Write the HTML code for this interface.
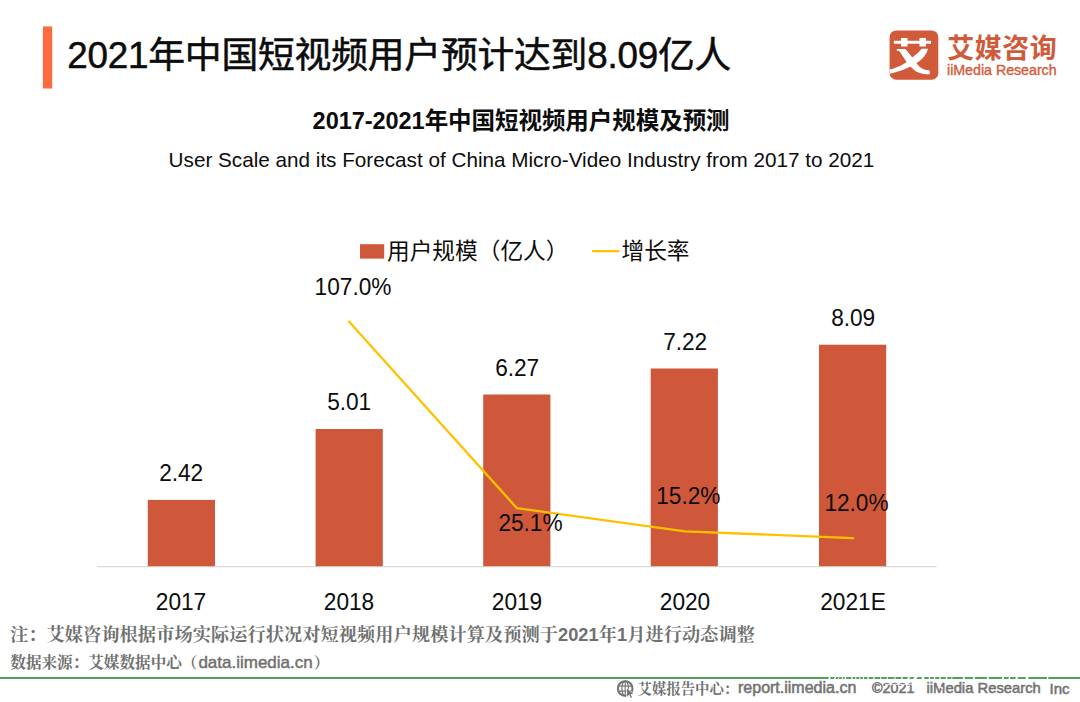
<!DOCTYPE html>
<html lang="zh-CN">
<head>
<meta charset="utf-8">
<title>2021年中国短视频用户预计达到8.09亿人</title>
<style>
html,body{margin:0;padding:0;background:#fff;}
body{width:1080px;height:702px;overflow:hidden;font-family:"Liberation Sans",sans-serif;color:#0c0c0c;}
#page{position:relative;width:1080px;height:702px;background:#fff;overflow:hidden;}
.t{position:absolute;white-space:nowrap;line-height:1;margin:0;padding:0;font-weight:normal;}
.g{position:absolute;left:0;top:0;width:1080px;height:702px;overflow:visible;pointer-events:none;}
.sr{position:absolute;white-space:nowrap;color:transparent;line-height:1;margin:0;padding:0;font-weight:normal;overflow:hidden;}
.lbl{color:#0c0c0c;transform:scaleY(1.05);transform-origin:50% 84.65%;}
.grey{color:#737373;-webkit-text-stroke:0.55px #737373;}
.rule{position:absolute;left:0;top:676.8px;width:1080px;height:2.3px;background:#52A05E;}
svg text{font-family:"Liberation Sans","Noto Sans CJK SC",sans-serif;}
svg text.serif{font-family:"Liberation Sans","Noto Serif CJK SC",serif;}
</style>
</head>
<body>
<div id="page">
<svg class="g" viewBox="0 0 1080 702" aria-hidden="true"><rect x="42.9" y="26.4" width="9.3" height="62.1" fill="#FD6C40"/></svg>
<svg class="g" viewBox="0 0 1080 702"><text x="67.3" y="67.6" font-size="36.8" fill="#0c0c0c" stroke="#0c0c0c" stroke-width="0.5" textLength="664" lengthAdjust="spacing">2021年中国短视频用户预计达到8.09亿人</text></svg>
<svg class="g" viewBox="0 0 1080 702">
<rect x="889.6" y="30.4" width="48.7" height="49.4" rx="6.6" ry="6.6" fill="#D15A3B"/>
<g transform="translate(884 26) scale(0.08547)" fill="#fff">
<rect x="115" y="172" width="435" height="36" rx="6"/>
<rect x="200" y="140" width="75" height="100"/>
<rect x="415" y="140" width="75" height="100"/>
<path d="M440 265 L515 265 C500 330 440 400 385 430 C330 475 200 530 65 560 L65 510 C150 490 230 450 270 415 C330 365 400 320 440 265 Z"/>
<path d="M150 268 L250 268 C280 300 300 330 325 360 C360 410 400 470 440 495 C470 512 500 518 535 520 L535 565 C470 565 420 555 380 535 C340 510 300 460 265 420 C230 370 200 320 185 300 C175 292 160 290 150 290 Z"/>
</g>
<text x="947.3" y="57.9" font-size="27" font-weight="bold" fill="#D15A3B" textLength="109.5" lengthAdjust="spacing">艾媒咨询</text>
</svg>
<div class="t logo-en" style="left:947.0px;top:62.6px;font-size:14.2px;color:#D15A3B;-webkit-text-stroke:0.35px #D15A3B;">iiMedia Research</div>
<svg class="g" viewBox="0 0 1080 702"><text x="312.6" y="129" font-size="23.5" font-weight="bold" fill="#0c0c0c" textLength="417" lengthAdjust="spacing">2017-2021年中国短视频用户规模及预测</text></svg>
<div class="t sub" style="left:168.6px;top:149.8px;font-size:20.7px;">User Scale and its Forecast of China Micro-Video Industry from 2017 to 2021</div>
<svg class="g" viewBox="0 0 1080 702">
<rect x="360" y="244.2" width="24.2" height="14.4" fill="#D0583A"/>
<line x1="593" y1="251.2" x2="618.3" y2="251.2" stroke="#FFC000" stroke-width="2.2" stroke-linecap="round"/>
<text x="387" y="258.6" font-size="22.7" fill="#0c0c0c">用户规模（亿人）</text>
<text x="621.5" y="258.6" font-size="22.7" fill="#0c0c0c">增长率</text>
<line x1="97.3" y1="566.6" x2="936.5" y2="566.6" stroke="#D9D9D9" stroke-width="1.2"/>
<rect x="147.8" y="499.9" width="67.2" height="66.3" fill="#D0583A"/>
<rect x="315.6" y="429.0" width="67.2" height="137.2" fill="#D0583A"/>
<rect x="483.2" y="394.5" width="67.2" height="171.7" fill="#D0583A"/>
<rect x="650.7" y="368.5" width="67.2" height="197.7" fill="#D0583A"/>
<rect x="819.0" y="344.7" width="67.2" height="221.5" fill="#D0583A"/>
<polyline points="349,321.5 517,508.2 685,531.3 853,538.1" fill="none" stroke="#FFC000" stroke-width="2.3" stroke-linecap="round" stroke-linejoin="round"/>
</svg>
<div class="t lbl" style="left:81.2px;width:200px;text-align:center;top:461.6px;font-size:22.67px;">2.42</div>
<div class="t lbl" style="left:249.2px;width:200px;text-align:center;top:391.3px;font-size:22.67px;">5.01</div>
<div class="t lbl" style="left:417.2px;width:200px;text-align:center;top:357.0px;font-size:22.67px;">6.27</div>
<div class="t lbl" style="left:585.2px;width:200px;text-align:center;top:331.3px;font-size:22.67px;">7.22</div>
<div class="t lbl" style="left:753.2px;width:200px;text-align:center;top:306.6px;font-size:22.67px;">8.09</div>
<div class="t lbl" style="left:253.0px;width:200px;text-align:center;top:275.7px;font-size:22.67px;">107.0%</div>
<div class="t lbl" style="left:430.5px;width:200px;text-align:center;top:512.3px;font-size:22.67px;">25.1%</div>
<div class="t lbl" style="left:588.4px;width:200px;text-align:center;top:484.7px;font-size:22.67px;">15.2%</div>
<div class="t lbl" style="left:756.5px;width:200px;text-align:center;top:492.4px;font-size:22.67px;">12.0%</div>
<div class="t lbl" style="left:81.0px;width:200px;text-align:center;top:591.2px;font-size:22.67px;">2017</div>
<div class="t lbl" style="left:249.0px;width:200px;text-align:center;top:591.2px;font-size:22.67px;">2018</div>
<div class="t lbl" style="left:417.0px;width:200px;text-align:center;top:591.2px;font-size:22.67px;">2019</div>
<div class="t lbl" style="left:585.0px;width:200px;text-align:center;top:591.2px;font-size:22.67px;">2020</div>
<div class="t lbl" style="left:753.0px;width:200px;text-align:center;top:591.2px;font-size:22.67px;">2021E</div>
<svg class="g" viewBox="0 0 1080 702">
<text class="serif" x="10" y="641" font-size="18.2" font-weight="bold" fill="#707070" textLength="745" lengthAdjust="spacing">注：艾媒咨询根据市场实际运行状况对短视频用户规模计算及预测于2021年1月进行动态调整</text>
<text class="serif" x="10.3" y="668.3" font-size="15.6" font-weight="bold" fill="#707070">数据来源：艾媒数据中心（</text>
<text class="serif" x="313.8" y="668.3" font-size="15.6" font-weight="bold" fill="#707070">）</text>
<text class="serif" x="637.5" y="693.5" font-size="14.4" font-weight="bold" fill="#737373">艾媒报告中心：</text>
</svg>
<div class="t src" style="left:198.4px;top:653.9px;font-size:17.0px;color:#707070;-webkit-text-stroke:0.45px #707070;">data.iimedia.cn</div>
<div class="rule"></div>
<svg class="g" viewBox="0 0 1080 702" aria-hidden="true">
<g fill="none" stroke="#737373">
<circle cx="625.2" cy="688.5" r="7.3" stroke-width="2.1"/>
<ellipse cx="625.2" cy="688.5" rx="3.3" ry="7.3" stroke-width="1.2"/>
<line x1="625.2" y1="681" x2="625.2" y2="696" stroke-width="1.1"/>
<line x1="618.6" y1="686" x2="631.8" y2="686" stroke-width="1.2"/>
<line x1="618.6" y1="691.2" x2="631.8" y2="691.2" stroke-width="1.2"/>
</g>
<path d="M627.1 688.2 L627.1 696.4 L629.2 694.6 L630.7 698 L632 697.4 L630.6 694.2 L633.2 693.9 Z" fill="#737373" stroke="#fff" stroke-width="1.3" paint-order="stroke"/>
</svg>
<div class="t grey" style="left:738.0px;top:679.9px;font-size:16.0px;">report.iimedia.cn</div><div class="t grey" style="left:872.0px;top:681.3px;font-size:14.3px;">©2021</div><div class="t grey" style="left:926.5px;top:680.9px;font-size:14.8px;">iiMedia Research</div><div class="t grey" style="left:1049.6px;top:680.7px;font-size:15.0px;">Inc</div>
<svg class="g" viewBox="0 0 1080 702" aria-hidden="true"><g stroke="#fff" fill="none" stroke-linecap="butt"><line x1="829.4" y1="674.5" x2="829.4" y2="681.3" stroke-width="1.7"/><line x1="837.4" y1="674.5" x2="832.8" y2="681.5" stroke-width="1.3"/><line x1="840.6" y1="674.5" x2="836.9" y2="681.5" stroke-width="0.8"/><line x1="842.2" y1="674.5" x2="842.2" y2="681.3" stroke-width="1.0"/><line x1="845.4" y1="674.5" x2="845.4" y2="681.3" stroke-width="1.3"/><line x1="852.0" y1="674.5" x2="852.0" y2="681.3" stroke-width="1.3"/><line x1="855.8" y1="674.5" x2="855.8" y2="681.3" stroke-width="1.0"/><line x1="859.8" y1="674.5" x2="859.8" y2="681.3" stroke-width="1.0"/><line x1="863.4" y1="674.5" x2="863.4" y2="681.3" stroke-width="1.0"/><line x1="868.2" y1="674.5" x2="868.2" y2="681.3" stroke-width="1.3"/><line x1="873.9" y1="674.5" x2="873.9" y2="681.3" stroke-width="1.3"/><line x1="880.7" y1="674.5" x2="880.7" y2="681.3" stroke-width="1.0"/><line x1="887.3" y1="674.5" x2="887.3" y2="681.3" stroke-width="1.0"/><line x1="895.0" y1="674.5" x2="895.0" y2="681.3" stroke-width="1.0"/><line x1="901.9" y1="674.5" x2="901.9" y2="681.3" stroke-width="1.3"/><line x1="911.5" y1="674.5" x2="906.0" y2="681.5" stroke-width="1.8"/><line x1="918.6" y1="674.5" x2="912.1" y2="681.5" stroke-width="2.4"/><line x1="923.0" y1="674.5" x2="923.0" y2="681.3" stroke-width="2.5"/><line x1="929.4" y1="674.5" x2="929.4" y2="681.3" stroke-width="1.3"/><line x1="934.5" y1="674.5" x2="934.5" y2="681.3" stroke-width="1.3"/><line x1="940.0" y1="674.5" x2="940.0" y2="681.3" stroke-width="1.3"/><line x1="946.5" y1="674.5" x2="946.5" y2="681.3" stroke-width="1.4"/><line x1="953.8" y1="674.5" x2="949.9" y2="681.5" stroke-width="0.9"/><line x1="963.8" y1="674.5" x2="963.8" y2="681.3" stroke-width="1.8"/><line x1="974.0" y1="674.5" x2="974.0" y2="681.3" stroke-width="1.7"/><line x1="987.8" y1="674.5" x2="987.8" y2="681.3" stroke-width="1.7"/><line x1="1003.0" y1="674.5" x2="1003.0" y2="681.3" stroke-width="1.7"/><line x1="1009.4" y1="674.5" x2="1009.4" y2="681.3" stroke-width="1.4"/><line x1="1019.5" y1="674.5" x2="1014.1" y2="681.5" stroke-width="1.8"/><line x1="1027.0" y1="674.5" x2="1027.0" y2="681.3" stroke-width="2.6"/><line x1="1047.6" y1="674.5" x2="1047.6" y2="681.3" stroke-width="1.4"/><line x1="885" y1="684.4" x2="913.2" y2="684.4" stroke-width="1" stroke-opacity="0.8"/><line x1="937.6" y1="685.2" x2="943" y2="688.6" stroke-width="1.2"/><line x1="1034.4" y1="682.2" x2="1038.8" y2="682.2" stroke-width="1.4"/></g></svg>
</div>
</body>
</html>
